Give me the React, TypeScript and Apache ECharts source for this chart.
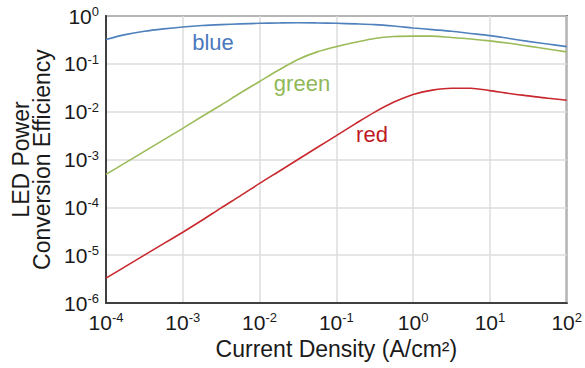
import React, { useEffect, useRef } from "react";
import * as echarts from "echarts";

// current density (A/cm²), quarter-decade samples
const currentDensity = [
  1e-4, 1.78e-4, 3.16e-4, 5.62e-4,
  1e-3, 1.78e-3, 3.16e-3, 5.62e-3,
  1e-2, 1.78e-2, 3.16e-2, 5.62e-2,
  1e-1, 1.78e-1, 3.16e-1, 5.62e-1,
  1, 1.78, 3.16, 5.62,
  10, 17.8, 31.6, 56.2,
  100,
];
// efficiencies, as log10 values
const blueLog10 = [
  -0.49, -0.39, -0.32, -0.27,
  -0.23, -0.2, -0.18, -0.165,
  -0.153, -0.145, -0.14, -0.145,
  -0.153, -0.165, -0.18, -0.21,
  -0.25, -0.285, -0.32, -0.365,
  -0.41, -0.47, -0.53, -0.585,
  -0.64,
];
const greenLog10 = [
  -3.31, -3.07, -2.83, -2.59,
  -2.35, -2.1, -1.86, -1.61,
  -1.37, -1.13, -0.91, -0.75,
  -0.64, -0.55, -0.47, -0.43,
  -0.42, -0.42, -0.45, -0.48,
  -0.52, -0.57, -0.63, -0.69,
  -0.75,
];
const redLog10 = [
  -5.48, -5.24, -5.0, -4.76,
  -4.52, -4.27, -4.01, -3.76,
  -3.5, -3.25, -3.0, -2.75,
  -2.5, -2.25, -2.01, -1.8,
  -1.64, -1.55, -1.51, -1.51,
  -1.56, -1.62, -1.67, -1.72,
  -1.76,
];

const seriesNames = ["blue", "green", "red"];
const lineColors = ["#4f81bd", "#9bbb59", "#c8282e"];
const labelColors = ["#4a78bd", "#8fb858", "#c0191f"];
const xTitle = "Current Density (A/cm²)";
const yTitle = "LED Power\nConversion Efficiency";

const FONT = "'Liberation Sans', Arial, sans-serif";
const TEXT = "#1a1a1a";

const fmt = (v: number) => {
  const e = Math.round(Math.log10(v));
  return "{b|10}{s|" + e + "}";
};

const richLabel = {
  b: { fontSize: 21, color: TEXT, fontFamily: FONT, lineHeight: 22 },
  s: { fontSize: 13, color: TEXT, fontFamily: FONT, verticalAlign: "top", lineHeight: 13, padding: [0, 0, 8, 0] },
};

export default function App() {
  const ref = useRef<HTMLDivElement>(null);
  useEffect(() => {
    if (!ref.current) return;
    const chart = echarts.init(ref.current, undefined, { renderer: "svg" });
    const allLog = [blueLog10, greenLog10, redLog10];
    chart.setOption({
      animation: false,
      backgroundColor: "#ffffff",
      grid: { left: 106, right: 18, top: 16, bottom: 65, show: true, borderColor: "#404040", borderWidth: 2, backgroundColor: "transparent" },
      xAxis: {
        type: "log",
        logBase: 10,
        min: 1e-4,
        max: 1e2,
        interval: 1,
        name: xTitle,
        nameLocation: "middle",
        nameGap: 33,
        nameTextStyle: { fontSize: 23, color: TEXT, fontFamily: FONT },
        axisLine: { show: true, lineStyle: { color: "#404040", width: 2 } },
        axisTick: { show: false },
        splitLine: { show: true, lineStyle: { color: "#dcdcdc", width: 1.5 } },
        axisLabel: { formatter: fmt, rich: richLabel, margin: 8 },
      },
      yAxis: {
        type: "log",
        logBase: 10,
        min: 1e-6,
        max: 1,
        interval: 1,
        name: yTitle,
        nameLocation: "middle",
        nameRotate: 90,
        nameGap: 54,
        nameTextStyle: { fontSize: 23, lineHeight: 21, color: TEXT, fontFamily: FONT },
        axisLine: { show: true, lineStyle: { color: "#404040", width: 2 } },
        axisTick: { show: false },
        splitLine: { show: true, lineStyle: { color: "#dcdcdc", width: 1.5 } },
        axisLabel: { formatter: fmt, rich: richLabel, margin: 7 },
      },
      series: seriesNames.map((n, i) => ({
        name: n,
        type: "line",
        smooth: 0.3,
        showSymbol: false,
        lineStyle: { color: lineColors[i], width: 1.6 },
        itemStyle: { color: lineColors[i] },
        data: currentDensity.map((x, j) => [x, Math.pow(10, allLog[i][j])]),
      })),
      graphic: [
        { type: "text", x: 213, y: 42, style: { text: seriesNames[0], fill: labelColors[0], fontSize: 22, fontFamily: FONT, align: "center", verticalAlign: "middle" } },
        { type: "text", x: 302, y: 83, style: { text: seriesNames[1], fill: labelColors[1], fontSize: 22, fontFamily: FONT, align: "center", verticalAlign: "middle" } },
        { type: "text", x: 372, y: 134, style: { text: seriesNames[2], fill: labelColors[2], fontSize: 22, fontFamily: FONT, align: "center", verticalAlign: "middle" } },
      ],
    });
    return () => chart.dispose();
  }, []);
  return <div ref={ref} style={{ width: 585, height: 368, position: "absolute", left: 0, top: 0 }} />;
}
